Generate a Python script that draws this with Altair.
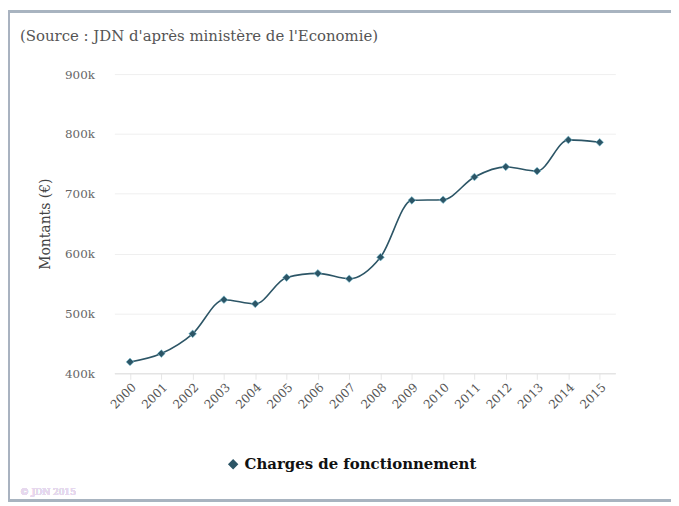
import altair as alt
import pandas as pd

years = [str(y) for y in range(2000, 2016)]
values = [419000, 433000, 466000, 523000, 516000, 560000, 567000, 558000,
          594000, 689000, 690000, 728000, 745000, 738000, 790000, 786000]
series = "Charges de fonctionnement"
title_text = "(Source : JDN d'après ministère de l'Economie)"
y_title = "Montants (€)"
credit = "© JDN 2015"

df = pd.DataFrame({"annee": years, "montant": values, "serie": series})

FONT = "DejaVu Serif"
W, H = 504, 301
LINE = "#2c5566"

color = alt.Color("serie:N", scale=alt.Scale(range=[LINE]),
                  legend=alt.Legend(title=None, orient="none", legendX=112, legendY=385,
                                    symbolType="diamond", symbolSize=70, labelLimit=0,
                                    labelFont=FONT, labelFontSize=15, labelFontWeight="bold",
                                    labelColor="#111", symbolFillColor=LINE))

x = alt.X("annee:O", scale=alt.Scale(type="point", padding=0.5), title=None,
          axis=alt.Axis(labelAngle=315, labelFont=FONT, labelFontSize=12, labelColor="#555",
                        domainColor="#dddddd", tickColor="#e6e6e6", tickSize=6, grid=False,
                        labelPadding=2))
y = alt.Y("montant:Q", scale=alt.Scale(domain=[400000, 900000], nice=False), title=y_title,
          axis=alt.Axis(format="~s", values=[400000, 500000, 600000, 700000, 800000, 900000],
                        labelFont=FONT, labelFontSize=12, labelColor="#666", domain=False,
                        ticks=False, labelPadding=20, gridColor="#efefef",
                        titleFont=FONT, titleFontSize=14, titleFontWeight="normal",
                        titleColor="#444", titlePadding=12))

line = alt.Chart(df).mark_line(interpolate="monotone", strokeWidth=1.6).encode(
    x=x, y=y, color=color)
pts = alt.Chart(df).mark_point(shape="diamond", filled=True, size=60, opacity=1,
                               stroke="#7fc6d8", strokeWidth=0.6).encode(
    x="annee:O", y="montant:Q", color=alt.Color("serie:N", scale=alt.Scale(range=[LINE]), legend=None))

frame = alt.Chart(df).mark_rect(fill=None, stroke="#a9b3c0", strokeWidth=1.5).encode(
    x=alt.value(-106), x2=alt.value(562), y=alt.value(-63), y2=alt.value(429))

cred = alt.Chart(df).mark_text(align="left", font=FONT, fontSize=9, color="#e6d8ee").encode(
    x=alt.value(-95), y=alt.value(420), text=alt.value(credit))

chart = alt.layer(frame, line, pts, cred).properties(
    width=W, height=H,
    title=alt.TitleParams(title_text, anchor="start", frame="group", dx=-95, offset=0, dy=33,
                          font=FONT, fontSize=15, fontWeight="normal", color="#555"),
    autosize=alt.AutoSizeParams(type="none"),
    padding={"left": 107, "top": 65, "right": 56, "bottom": 128},
).configure(background="white").configure_view(stroke=None)

chart.save("out.html", embed_options={"renderer": "svg", "actions": False})
